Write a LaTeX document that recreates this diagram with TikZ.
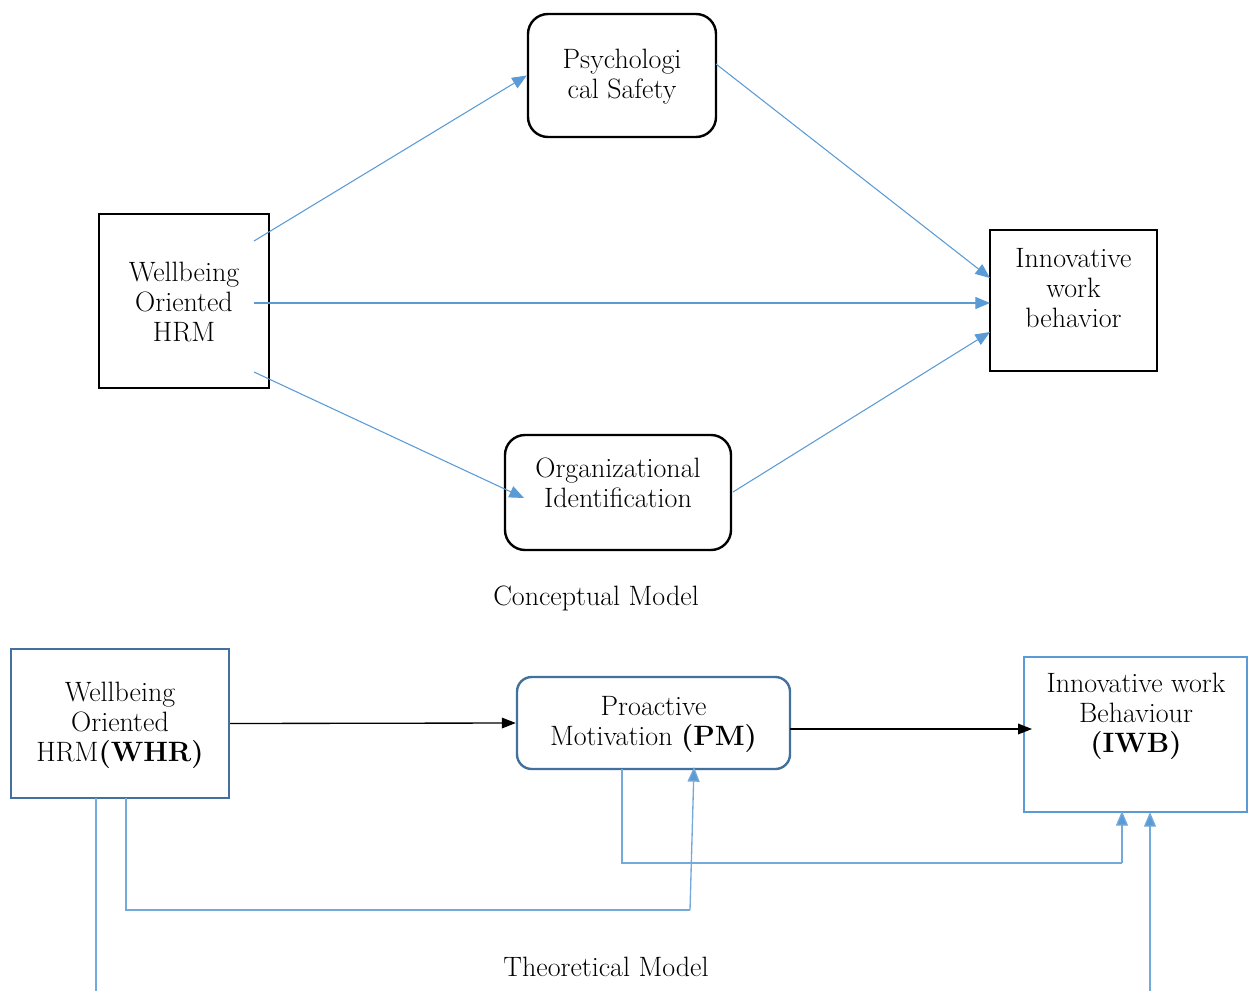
\documentclass[tikz,border=0pt]{standalone}
\usetikzlibrary{arrows.meta}
\definecolor{lb}{HTML}{5B9BD5}
\definecolor{db}{HTML}{41719C}
\begin{document}
\begin{tikzpicture}[x=0.75pt,y=-0.75pt,
  txt/.style={align=center,font=\fontsize{21}{22.5}\selectfont,inner sep=0pt},
  kbox/.style={draw=black,line width=1.8pt,inner sep=0pt},
  rbox/.style={kbox,rounded corners=15pt},
  bbox/.style={draw=db,line width=1.8pt,inner sep=0pt},
  barr/.style={draw=lb,line width=0.8pt,-{Triangle[length=11pt,width=9pt,fill=lb]}},
  bline/.style={draw=lb!85,line width=1pt},
  karr/.style={draw=black,line width=1pt,-{Triangle[length=10.5pt,width=8pt]}}]
\useasboundingbox (0,0) rectangle (1248,991);
% ---------- conceptual model ----------
\node[rbox,minimum width=141pt,minimum height=92.25pt] (ps) at (622,75.5) {};
\node[txt] at (622,77) {Psychologi\\cal Safety};
\node[kbox,minimum width=127.5pt,minimum height=130.5pt] (wh) at (184,301) {};
\node[txt] at (184,302) {Wellbeing\\Oriented\\HRM};
\node[kbox,minimum width=125.25pt,minimum height=105.75pt] (iw) at (1073.5,300.5) {};
\node[txt] at (1073.5,288) {Innovative\\work\\behavior};
\node[rbox,minimum width=169.5pt,minimum height=86.25pt] (oi) at (618,492.5) {};
\node[txt] at (618,483) {Organizational\\Identification};
\node[txt] (c1) at (596,598) {Conceptual Model};
\coordinate (w1) at (254,241);
\coordinate (w2) at (254,303);
\coordinate (w3) at (254,372);
\coordinate (i2) at (990,303);
\coordinate (o1) at (524,498);
\coordinate (p1) at (716,64);
\coordinate (i1) at (990,278);
\coordinate (o2) at (733,492);
\coordinate (i3) at (990,332);
\draw[barr] (w1) -- (ps.west);
\draw[barr] (w2) -- (i2);
\draw[barr] (w3) -- (o1);
\draw[barr] (p1) -- (i1);
\draw[barr] (o2) -- (i3);
% ---------- theoretical model ----------
\node[bbox,minimum width=163.5pt,minimum height=111.75pt] (whr) at (120,723.5) {};
\node[txt] at (120,725) {Wellbeing\\Oriented\\HRM\textbf{(WHR)}};
\node[bbox,rounded corners=11pt,minimum width=204.75pt,minimum height=69pt] (pm) at (653.5,723) {};
\node[txt] at (653.5,724) {Proactive\\Motivation \textbf{(PM)}};
\node[draw=lb,line width=1.6pt,inner sep=0pt,minimum width=167.25pt,minimum height=116.25pt] (iwb) at (1135.5,734.5) {};
\node[txt] at (1136,716) {Innovative work\\Behaviour\\\textbf{(IWB)}};
\node[txt] (c2) at (606,967) {Theoretical Model};
\coordinate (k1) at (1032,729);
\coordinate (k0) at (790,729);
\draw[karr] (whr.east) -- (pm.west);
\draw[karr] (k0) -- (k1);
\coordinate (a0) at (96,798);
\coordinate (a1) at (96,991);
\coordinate (b0) at (126,798);
\coordinate (b1) at (126,910);
\coordinate (b2) at (690,910);
\coordinate (b3) at (694,767);
\coordinate (d0) at (622,769);
\coordinate (d1) at (622,863);
\coordinate (d2) at (1122,863);
\coordinate (d3) at (1122,811);
\coordinate (e0) at (1150,991);
\coordinate (e1) at (1150,812);
\draw[bline] (a0) -- (a1);
\draw[bline] (b0) -- (b1) -- (b2);
\draw[barr,draw=lb!85,line width=1pt] (b2) -- (b3);
\draw[bline] (d0) -- (d1) -- (d2);
\draw[barr,draw=lb!85,line width=1pt] (d2) -- (d3);
\draw[barr,draw=lb!85,line width=1pt] (e0) -- (e1);
\end{tikzpicture}
\end{document}
